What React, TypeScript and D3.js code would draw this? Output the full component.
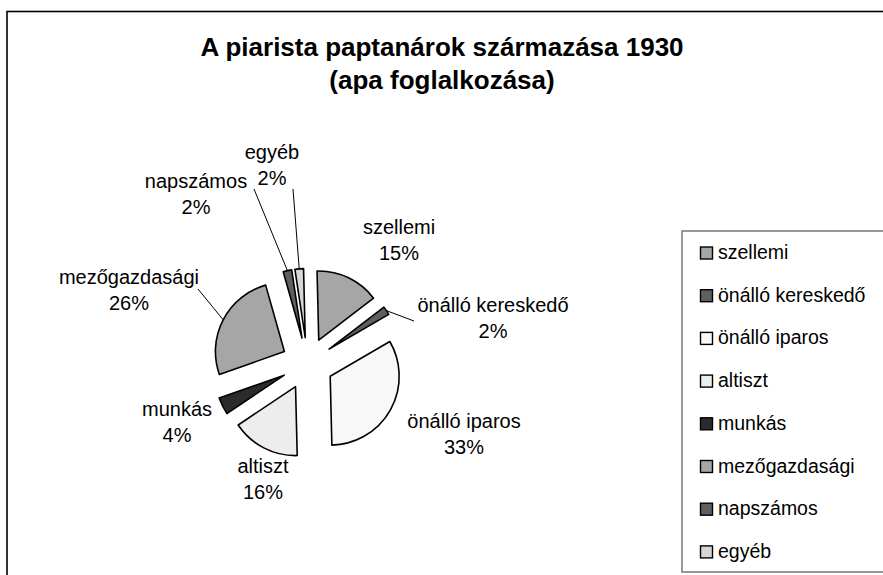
import React from "react";
import * as d3 from "d3";

const categories = [
  "szellemi",
  "önálló kereskedő",
  "önálló iparos",
  "altiszt",
  "munkás",
  "mezőgazdasági",
  "napszámos",
  "egyéb",
];
const values = [15, 2, 33, 16, 4, 26, 2, 2];
const colors = ["#a6a6a6", "#5f5f5f", "#f8f8f8", "#ededed", "#2b2b2b", "#a6a6a6", "#5f5f5f", "#d6d6d6"];
const titleLines = ["A piarista paptanárok származása 1930", "(apa foglalkozása)"];

// label layout (text centre x, first-line centre y) and leader line end points
const labelPos: [number, number][] = [
  [399, 227],
  [493, 305],
  [464, 421],
  [263, 466],
  [177, 409],
  [129, 277],
  [196, 181],
  [272, 152],
];
const leaderEnds: ([number, number] | null)[] = [
  null,
  [414, 321],
  null,
  null,
  null,
  [198, 289],
  [254, 189],
  [293, 189],
];

const W = 883;
const H = 575;
const cx = 307.5;
const cy = 363.5;
const R = 69;
const explode = 26;
const startDeg = -1.4;

export default function App() {
  const pie = d3
    .pie<number>()
    .sort(null)
    .value((d) => d)
    .startAngle((startDeg * Math.PI) / 180)
    .endAngle(((startDeg + 360) * Math.PI) / 180);
  const arcs = pie(values);
  const arc = d3.arc<d3.PieArcDatum<number>>().innerRadius(0).outerRadius(R);
  const font = "'Liberation Sans', Arial, sans-serif";
  const total = d3.sum(values);

  return (
    <svg width={W} height={H} style={{ position: "absolute", left: 0, top: 0, background: "#fff" }}>
      <rect x={7} y={11.5} width={W + 20} height={H + 20} fill="#fff" stroke="#000" strokeWidth={1.6} />
      {titleLines.map((t, i) => (
        <text
          key={i}
          x={442}
          y={56 + i * 33}
          textAnchor="middle"
          fontFamily={font}
          fontWeight="bold"
          fontSize={26}
          fill="#000"
        >
          {t}
        </text>
      ))}
      <g>
        {arcs.map((a, i) => {
          const mid = (a.startAngle + a.endAngle) / 2;
          const dx = Math.sin(mid) * explode;
          const dy = -Math.cos(mid) * explode;
          return (
            <path
              key={i}
              d={arc(a) || ""}
              transform={`translate(${cx + dx},${cy + dy})`}
              fill={colors[i]}
              stroke="#000"
              strokeWidth={1.6}
              strokeLinejoin="round"
            />
          );
        })}
      </g>
      {arcs.map((a, i) => {
        const end = leaderEnds[i];
        if (!end) return null;
        const mid = (a.startAngle + a.endAngle) / 2;
        const sx = cx + Math.sin(mid) * (explode + R);
        const sy = cy - Math.cos(mid) * (explode + R);
        return <line key={i} x1={sx} y1={sy} x2={end[0]} y2={end[1]} stroke="#000" strokeWidth={1} />;
      })}
      {arcs.map((a, i) => {
        const [lx, ly] = labelPos[i];
        const pct = Math.round((values[i] / total) * 100) + "%";
        return (
          <g key={i} fontFamily={font} fontSize={20} fill="#000" textAnchor="middle">
            <text x={lx} y={ly + 7}>{categories[i]}</text>
            <text x={lx} y={ly + 33}>{pct}</text>
          </g>
        );
      })}
      <rect x={682} y={231} width={W} height={341} fill="#fff" stroke="#808080" strokeWidth={1.6} />
      {categories.map((c, i) => {
        const y = 253 + i * 42.7;
        return (
          <g key={i}>
            <rect x={700.5} y={y - 6} width={12} height={12} fill={colors[i]} stroke="#000" strokeWidth={1.4} />
            <text x={718} y={y + 6} fontFamily={font} fontSize={19.5} fill="#000">
              {c}
            </text>
          </g>
        );
      })}
    </svg>
  );
}
